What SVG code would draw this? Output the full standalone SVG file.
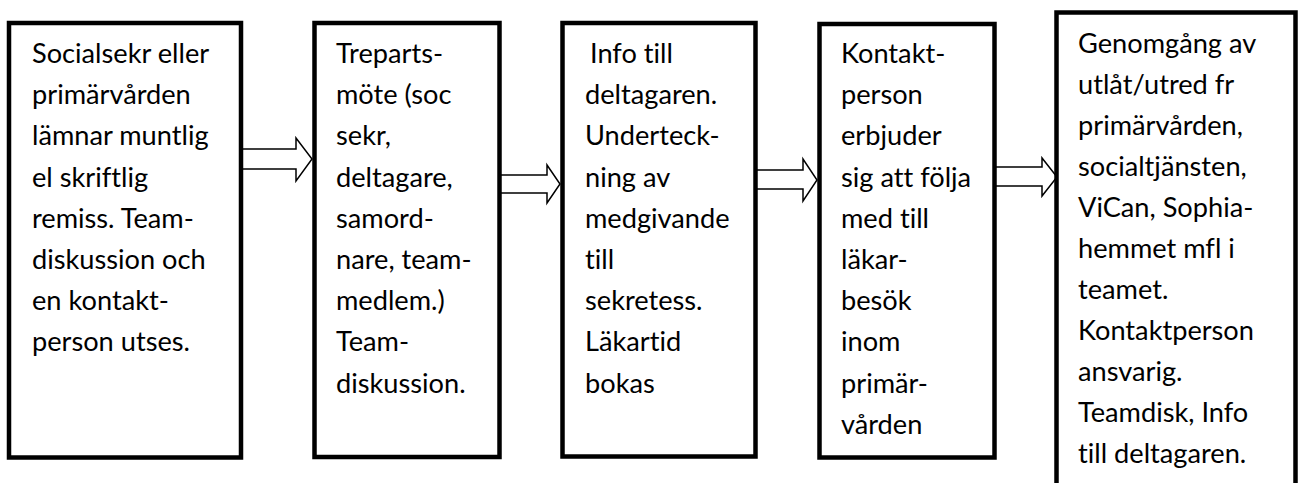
<svg xmlns="http://www.w3.org/2000/svg" width="1299" height="483" viewBox="0 0 1299 483">
<style>
.box{fill:#fff;stroke:#000;stroke-width:4.5}
.arr{fill:#fff;stroke:#000;stroke-width:1.5;stroke-linejoin:miter}
text{font-family:Lato,"Liberation Sans",sans-serif;font-size:27.2px;fill:#000;font-variant-ligatures:none;font-feature-settings:"liga" 0,"dlig" 0}
</style>
<rect width="1299" height="483" fill="#fff"/>
<g id="connectors">
<polygon class="arr" points="242,149 296,149 296,138 312,159 296,181 296,169 242,169"/>
<polygon class="arr" points="499.5,175 547,175 547,165 560,184 547,203 547,193 499.5,193"/>
<polygon class="arr" points="755.5,170 803,170 803,159 817,180 803,201 803,189 755.5,189"/>
<polygon class="arr" points="994.5,167 1042,167 1042,158 1057,177 1042,196 1042,186 994.5,186"/>
</g>
<g id="node1">
<rect class="box" x="9" y="23" width="232" height="434.5"/>
<text x="32" y="63">Socialsekr eller</text>
<text x="32" y="104.2">primärvården</text>
<text x="32" y="145.4">lämnar muntlig</text>
<text x="32" y="186.6">el skriftlig</text>
<text x="32" y="227.8">remiss. Team-</text>
<text x="32" y="269">diskussion och</text>
<text x="32" y="310.2">en kontakt-</text>
<text x="32" y="351.4">person utses.</text>
</g>
<g id="node2">
<rect class="box" x="314.5" y="23" width="185" height="434"/>
<text x="336" y="63">Treparts-</text>
<text x="336" y="104.2">möte (soc</text>
<text x="336" y="145.4">sekr,</text>
<text x="336" y="186.6">deltagare,</text>
<text x="336" y="227.8">samord-</text>
<text x="336" y="269">nare, team-</text>
<text x="336" y="310.2">medlem.)</text>
<text x="336" y="351.4">Team-</text>
<text x="336" y="392.6">diskussion.</text>
</g>
<g id="node3">
<rect class="box" x="562.5" y="23" width="193" height="433.5"/>
<text x="590" y="63">Info till</text>
<text x="585" y="104.2">deltagaren.</text>
<text x="585" y="145.4">Underteck-</text>
<text x="585" y="186.6">ning av</text>
<text x="585" y="227.8">medgivande</text>
<text x="585" y="269">till</text>
<text x="585" y="310.2">sekretess.</text>
<text x="585" y="351.4">Läkartid</text>
<text x="585" y="392.6">bokas</text>
</g>
<g id="node4">
<rect class="box" x="819.5" y="24" width="175" height="433.5"/>
<text x="841" y="63">Kontakt-</text>
<text x="841" y="104.2">person</text>
<text x="841" y="145.4">erbjuder</text>
<text x="841" y="186.6">sig att följa</text>
<text x="841" y="227.8">med till</text>
<text x="841" y="269">läkar-</text>
<text x="841" y="310.2">besök</text>
<text x="841" y="351.4">inom</text>
<text x="841" y="392.6">primär-</text>
<text x="841" y="433.8">vården</text>
</g>
<g id="node5">
<rect class="box" x="1056.5" y="12.5" width="239" height="480"/>
<text x="1078" y="53">Genomgång av</text>
<text x="1078" y="94">utlåt/utred fr</text>
<text x="1078" y="135">primärvården,</text>
<text x="1078" y="176">socialtjänsten,</text>
<text x="1078" y="217">ViCan, Sophia-</text>
<text x="1078" y="258">hemmet mfl i</text>
<text x="1078" y="299">teamet.</text>
<text x="1078" y="340">Kontaktperson</text>
<text x="1078" y="381">ansvarig.</text>
<text x="1078" y="422">Teamdisk, Info</text>
<text x="1078" y="463">till deltagaren.</text>
</g>
</svg>
